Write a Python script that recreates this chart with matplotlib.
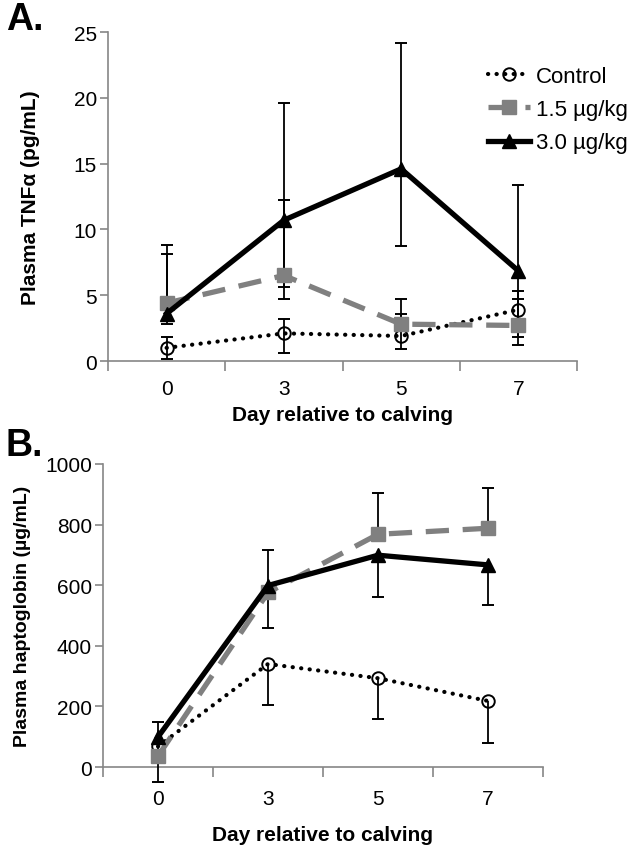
"""
Two-panel plot: plasma TNFa (A) and haptoglobin (B) around calving,
by treatment group. Error bar ends read off the original figure.
"""

import numpy as np
import matplotlib
matplotlib.use("Agg")
import matplotlib.pyplot as plt
from matplotlib.lines import Line2D

# ─── Data ─────────────────────────────────────────────────────────────────────
DAYS = ["0", "3", "5", "7"]
GROUPS = ["Control", "1.5 µg/kg", "3.0 µg/kg"]

# Panel A: TNFa (pg/mL)
tnf_ctrl = [1.0, 2.1, 1.9, 3.9]
tnf_15 = [4.4, 6.5, 2.8, 2.7]
tnf_30 = [3.6, 10.7, 14.6, 6.85]
# error bar ends (nan = no bar drawn on that side)
tnf_ctrl_lo = [0.13, 0.64, 0.89, np.nan]
tnf_ctrl_hi = [1.8, 3.2, 3.6, 5.3]
tnf_15_lo = [np.nan, 4.7, np.nan, 1.19]
tnf_15_hi = [8.1, 12.2, 4.7, 4.7]
tnf_30_lo = [2.8, 5.6, 8.75, 1.85]
tnf_30_hi = [8.8, 19.6, 24.2, 13.4]

# Panel B: haptoglobin (µg/mL)
hp_ctrl = [68, 340, 293, 218]
hp_15 = [36, 576, 768, 788]
hp_30 = [99, 599, 699, 667]
hp_ctrl_lo = [-49, 206, 157, 80]
hp_ctrl_hi = [np.nan] * 4
hp_15_lo = [np.nan] * 4
hp_15_hi = [149, 717, 904, 922]
hp_30_lo = [np.nan, 459, 562, 535]
hp_30_hi = [np.nan] * 4

# ─── Style ────────────────────────────────────────────────────────────────────
NARROW = ["Liberation Sans Narrow", "Liberation Sans", "DejaVu Sans"]
SANS = ["Liberation Sans", "DejaVu Sans"]
plt.rcParams["font.family"] = SANS

SPINE = "#868686"
GRAY = "#808080"

STYLES = {
    "Control": dict(color="black", lw=3.0, ls=(0, (0.05, 2.0)),
                    dash_capstyle="round", marker="o", ms=9,
                    mfc="none", mec="black", mew=1.4),
    "1.5 µg/kg": dict(color=GRAY, lw=3.8, ls=(0, (4.4, 2.6)),
                      marker="s", ms=9.5, mfc=GRAY, mec=GRAY),
    "3.0 µg/kg": dict(color="black", lw=3.8, ls="-",
                      marker="^", ms=10, mfc="black", mec="black"),
}


def panel(ax, series, ylim, yticks, ylabel, ylab_size, ylab_pad,
          tick_pad, xlab_pad, letter, letter_xy):
    x = np.arange(len(DAYS)) + 0.5
    for name, (vals, lo, hi) in zip(GROUPS, series):
        vals = np.asarray(vals, float)
        lo = np.asarray(lo, float)
        hi = np.asarray(hi, float)
        # error bars: stem from the mean to each end, with a flat cap
        for xi, v, a, b in zip(x, vals, lo, hi):
            for end in (a, b):
                if np.isnan(end):
                    continue
                ax.plot([xi, xi], [v, end], color="black", lw=1.3,
                        zorder=3, clip_on=False, solid_capstyle="butt")
                ax.plot([xi], [end], marker="_", ms=9, mew=1.4,
                        color="black", zorder=3, clip_on=False)
        ax.plot(x, vals, zorder=4, clip_on=False, **STYLES[name])

    ax.set_xlim(0, len(DAYS))
    ax.set_ylim(*ylim)
    ax.set_yticks(yticks)
    ax.set_xticks(np.arange(len(DAYS) + 1))
    ax.set_xticklabels([])
    ax.set_xticks(x, minor=True)
    ax.set_xticklabels(DAYS, minor=True)
    ax.tick_params(axis="x", which="major", length=7, width=1.2,
                   color=SPINE, direction="out")
    ax.tick_params(axis="x", which="minor", length=0, pad=tick_pad)
    ax.tick_params(axis="y", length=6, width=1.2, color=SPINE,
                   direction="out", pad=2)
    for lab in ax.get_xticklabels(minor=True) + ax.get_yticklabels():
        lab.set_fontfamily(NARROW)
        lab.set_fontsize(15)
    for s in ("top", "right"):
        ax.spines[s].set_visible(False)
    for s in ("left", "bottom"):
        ax.spines[s].set_color(SPINE)
        ax.spines[s].set_linewidth(1.2)
    ax.set_xlabel("Day relative to calving", fontsize=15, fontweight="bold",
                  labelpad=xlab_pad)
    ax.set_ylabel(ylabel, fontsize=ylab_size, fontweight="bold",
                  labelpad=ylab_pad)
    ax.figure.text(*letter_xy, letter, fontsize=27, fontweight="bold",
                   va="top", ha="left")


fig = plt.figure(figsize=(6.41, 8.53), dpi=100)
W, H = 641, 853

axA = fig.add_axes([108 / W, 1 - 362 / H, 469 / W, 329 / H])
panel(axA,
      [(tnf_ctrl, tnf_ctrl_lo, tnf_ctrl_hi),
       (tnf_15, tnf_15_lo, tnf_15_hi),
       (tnf_30, tnf_30_lo, tnf_30_hi)],
      (0, 25), [0, 5, 10, 15, 20, 25],
      "Plasma TNFα (pg/mL)", 15, 24, 13, 5, "A.", (6 / W, 1 - 2 / H))

axB = fig.add_axes([103 / W, 1 - 768 / H, 440 / W, 303 / H])
panel(axB,
      [(hp_ctrl, hp_ctrl_lo, hp_ctrl_hi),
       (hp_15, hp_15_lo, hp_15_hi),
       (hp_30, hp_30_lo, hp_30_hi)],
      (0, 1000), [0, 200, 400, 600, 800, 1000],
      "Plasma haptoglobin (µg/mL)", 14, 10, 16, 12, "B.", (6 / W, 1 - 428 / H))

handles = [Line2D([], [], **STYLES[g]) for g in GROUPS]
axA.legend(handles, GROUPS, loc="upper left", frameon=False,
           bbox_to_anchor=(488 / W, 1 - 67 / H),
           bbox_transform=fig.transFigure, fontsize=16,
           handlelength=1.9, handletextpad=0.25, labelspacing=0.55,
           borderpad=0, borderaxespad=0)

fig.savefig("out.png", dpi=100)
